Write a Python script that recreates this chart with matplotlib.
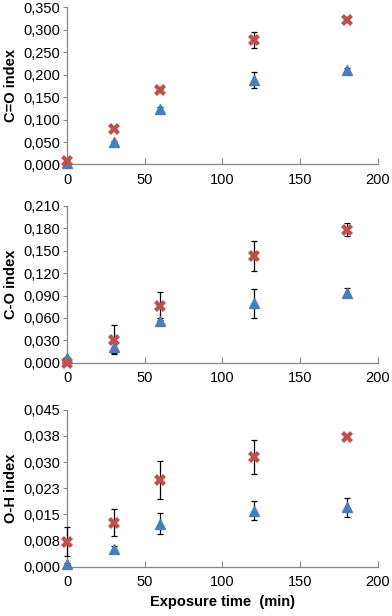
import matplotlib
matplotlib.use("Agg")
import matplotlib.pyplot as plt

plt.rcParams['font.family'] = ['Liberation Sans', 'DejaVu Sans']

time = [0, 30, 60, 120, 180]

co_red = [0.008, 0.078, 0.166, 0.278, 0.323]
co_red_err = [0.002, 0.002, 0.002, 0.018, 0.005]
co_blue = [0.003, 0.049, 0.123, 0.188, 0.210]
co_blue_err = [0.002, 0.004, 0.004, 0.018, 0.005]

c_o_red = [0.000, 0.031, 0.076, 0.143, 0.178]
c_o_red_err = [0.001, 0.019, 0.019, 0.020, 0.009]
c_o_blue = [0.006, 0.021, 0.056, 0.0795, 0.094]
c_o_blue_err = [0.002, 0.008, 0.004, 0.019, 0.006]

oh_red = [0.0072, 0.0126, 0.0248, 0.0314, 0.0373]
oh_red_err = [0.0042, 0.0038, 0.0055, 0.0049, 0.0005]
oh_blue = [0.0008, 0.005, 0.0123, 0.0161, 0.017]
oh_blue_err = [0.0003, 0.001, 0.003, 0.0027, 0.0027]

panels = [
    ("C=O index", co_red, co_red_err, co_blue, co_blue_err, 0.35,
     [0.0, 0.05, 0.10, 0.15, 0.20, 0.25, 0.30, 0.35],
     ["0,000", "0,050", "0,100", "0,150", "0,200", "0,250", "0,300", "0,350"]),
    ("C-O index", c_o_red, c_o_red_err, c_o_blue, c_o_blue_err, 0.21,
     [0.0, 0.03, 0.06, 0.09, 0.12, 0.15, 0.18, 0.21],
     ["0,000", "0,030", "0,060", "0,090", "0,120", "0,150", "0,180", "0,210"]),
    ("O-H index", oh_red, oh_red_err, oh_blue, oh_blue_err, 0.045,
     [0.0, 0.0075, 0.015, 0.0225, 0.030, 0.0375, 0.045],
     ["0,000", "0,008", "0,015", "0,023", "0,030", "0,038", "0,045"]),
]

fig = plt.figure(figsize=(3.92, 6.16), dpi=100)
bottoms = [0.733, 0.411, 0.080]
red = '#c0504d'
blue = '#4a7ebb'
grey = '#868686'

for (ylab, r, re, b, be, ymax, ticks, labels), bot in zip(panels, bottoms):
    ax = fig.add_axes([0.171, bot, 0.793, 0.255])
    ax.errorbar(time, b, yerr=be, fmt='none', ecolor='black', elinewidth=0.9,
                capsize=2.5, capthick=0.9, zorder=2, clip_on=False)
    ax.errorbar(time, r, yerr=re, fmt='none', ecolor='black', elinewidth=0.9,
                capsize=2.5, capthick=0.9, zorder=2, clip_on=False)
    ax.plot(time, b, linestyle='none', marker='^', ms=7, color=blue, zorder=3, clip_on=False)
    ax.plot(time, r, linestyle='none', marker='X', ms=8.5, mew=0, color=red, zorder=3, clip_on=False)
    ax.set_xlim(0, 200)
    ax.set_ylim(0, ymax)
    ax.set_xticks([0, 50, 100, 150, 200])
    ax.set_yticks(ticks)
    ax.set_yticklabels(labels)
    for s in ['top', 'right']:
        ax.spines[s].set_visible(False)
    for s in ['left', 'bottom']:
        ax.spines[s].set_color(grey)
        ax.spines[s].set_linewidth(0.9)
        ax.spines[s].set_zorder(1)
    ax.tick_params(axis='y', direction='out', length=3, color=grey, labelsize=10.5, pad=2)
    ax.tick_params(axis='x', direction='in', length=4, color=grey, labelsize=10.5, pad=6)
    ax.set_ylabel(ylab, fontsize=10.5, fontweight='bold', labelpad=4)

ax.set_xlabel("Exposure time  (min)", fontsize=10.5, fontweight='bold', labelpad=4)

fig.savefig("out.png", dpi=100)
